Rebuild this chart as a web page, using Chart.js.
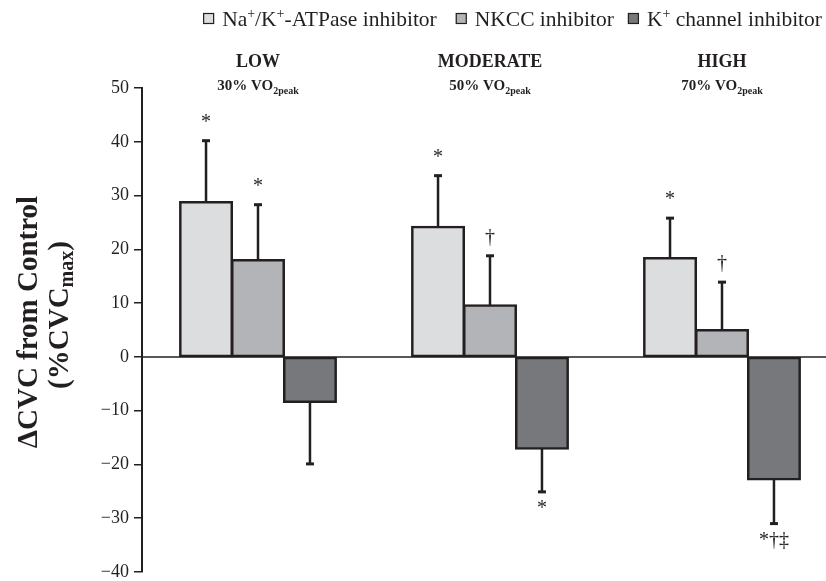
<!DOCTYPE html>
<html>
<head>
<meta charset="utf-8">
<script src="https://cdn.jsdelivr.net/npm/chart.js@4.4.1/dist/chart.umd.min.js"></script>
<style>
  html, body { margin: 0; padding: 0; background: #fff; overflow: hidden; }
  #wrap { position: relative; width: 838px; height: 581px; }
</style>
</head>
<body>
<div id="wrap"><canvas id="chart"></canvas></div>
<script>
// ── Data ─────────────────────────────────────────────────────────────── //
var categories   = ['LOW', 'MODERATE', 'HIGH'];
var intensities  = ['30% VO_{2peak}', '50% VO_{2peak}', '70% VO_{2peak}'];
var seriesNames  = ['Na^{+}/K^{+}-ATPase inhibitor', 'NKCC inhibitor', 'K^{+} channel inhibitor'];
var seriesColors = ['#dcdddf', '#b3b4b7', '#77787b'];

var naK     = [28.8, 24.2, 18.4];
var naKErr  = [11.4, 9.5, 7.4];
var nkcc    = [18.0, 9.6, 5.0];
var nkccErr = [10.3, 9.2, 8.9];
var kCh     = [-8.4, -17.1, -22.8];
var kChErr  = [11.5, 8.0, 8.2];

// significance marks per series, per category
var naKMarks  = ['*', '*', '*'];
var nkccMarks = ['*', '†', '†'];
var kChMarks  = ['', '*', '*†‡'];

var yTicks = { min: -40, max: 50, step: 10 };

var INK = '#231f20';
var SERIF = '"Liberation Serif", "Times New Roman", serif';

// ── Helpers: text with ^{sup} and _{sub} ─────────────────────────────── //
function parseRich(str) {
  var parts = [];
  var re = /([\^_])\{([^}]*)\}/g, last = 0, m;
  while ((m = re.exec(str)) !== null) {
    if (m.index > last) parts.push({ t: str.slice(last, m.index), mode: 'n' });
    parts.push({ t: m[2], mode: m[1] === '^' ? 'sup' : 'sub' });
    last = re.lastIndex;
  }
  if (last < str.length) parts.push({ t: str.slice(last), mode: 'n' });
  return parts;
}
function plain(str) { return str.replace(/[\^_]\{([^}]*)\}/g, '$1'); }

function richWidth(ctx, parts, st) {
  var w = 0;
  parts.forEach(function(p) {
    ctx.font = (p.mode === 'n' ? st.font : st.small);
    w += ctx.measureText(p.t).width;
  });
  return w;
}
function drawRich(ctx, parts, x, y, st) {
  parts.forEach(function(p) {
    ctx.font = (p.mode === 'n' ? st.font : st.small);
    var dy = p.mode === 'sup' ? -st.up : (p.mode === 'sub' ? st.down : 0);
    ctx.fillText(p.t, x, y + dy);
    x += ctx.measureText(p.t).width;
  });
}

// ── Plugins ──────────────────────────────────────────────────────────── //
var zeroLine = {
  id: 'zeroLine',
  afterDatasetsDraw: function(chart) {
    var ctx = chart.ctx, y = chart.scales.y.getPixelForValue(0), a = chart.chartArea;
    ctx.save();
    ctx.strokeStyle = INK; ctx.lineWidth = 1.5;
    ctx.beginPath(); ctx.moveTo(a.left, y); ctx.lineTo(a.right, y); ctx.stroke();
    ctx.restore();
  }
};

var errorBars = {
  id: 'errorBars',
  afterDatasetsDraw: function(chart) {
    var ctx = chart.ctx, ys = chart.scales.y;
    ctx.save();
    ctx.strokeStyle = INK; ctx.fillStyle = INK;
    chart.data.datasets.forEach(function(ds, i) {
      chart.getDatasetMeta(i).data.forEach(function(bar, j) {
        var v = ds.data[j], e = ds.errors[j];
        var sign = v >= 0 ? 1 : -1;
        var yEnd = ys.getPixelForValue(v + sign * e);
        ctx.lineWidth = 2.5;
        ctx.beginPath(); ctx.moveTo(bar.x, bar.y); ctx.lineTo(bar.x, yEnd); ctx.stroke();
        ctx.lineWidth = 3;
        ctx.beginPath(); ctx.moveTo(bar.x - 4, yEnd); ctx.lineTo(bar.x + 4, yEnd); ctx.stroke();
        // significance marks
        var mark = ds.marks[j];
        if (mark) {
          ctx.font = '20px ' + SERIF;
          ctx.textAlign = 'center';
          ctx.textBaseline = 'middle';
          ctx.fillText(mark, bar.x, yEnd + (sign > 0 ? -18 : 17));
        }
      });
    });
    ctx.restore();
  }
};

var annotations = {
  id: 'annotations',
  afterDraw: function(chart) {
    var ctx = chart.ctx, xs = chart.scales.x;
    ctx.save();
    ctx.fillStyle = INK;
    ctx.textBaseline = 'alphabetic';
    ctx.textAlign = 'left';

    // group headings
    categories.forEach(function(c, i) {
      var cx = xs.getPixelForValue(i);
      ctx.font = 'bold 18px ' + SERIF;
      ctx.textAlign = 'center';
      ctx.fillText(c, cx, 67);
      ctx.textAlign = 'left';
      var st = { font: 'bold 15px ' + SERIF, small: 'bold 10px ' + SERIF, up: 6, down: 4 };
      var parts = parseRich(intensities[i]);
      drawRich(ctx, parts, cx - richWidth(ctx, parts, st) / 2, 90, st);
    });

    // legend, right aligned
    var lst = { font: '21.5px ' + SERIF, small: '14px ' + SERIF, up: 8, down: 4 };
    var box = 11, gapBox = 8, gaps = [0, 19, 14];
    var items = seriesNames.map(function(n) { return parseRich(n); });
    var total = 0;
    items.forEach(function(p, i) {
      total += box + gapBox + richWidth(ctx, p, lst) + gaps[i];
    });
    var x = 822 - total;
    items.forEach(function(p, i) {
      x += gaps[i];
      ctx.fillStyle = seriesColors[i];
      ctx.fillRect(x, 13, box, box);
      ctx.strokeStyle = INK; ctx.lineWidth = 1.2;
      ctx.strokeRect(x + 0.5, 13.5, box - 1, box - 1);
      x += box + gapBox;
      ctx.fillStyle = INK;
      drawRich(ctx, p, x, 26, lst);
      x += richWidth(ctx, p, lst);
    });

    // y title, rotated
    var tst = { font: 'bold 29px ' + SERIF, small: 'bold 20px ' + SERIF, up: 8, down: 7 };
    var lines = [{ s: '\u0394CVC from Control', x: 30, y: 322 }, { s: '(%CVC_{max})', x: 61, y: 315 }];
    lines.forEach(function(l) {
      var parts = parseRich(l.s);
      ctx.save();
      ctx.translate(l.x, l.y);
      ctx.rotate(-Math.PI / 2);
      ctx.textBaseline = 'middle';
      drawRich(ctx, parts, -richWidth(ctx, parts, tst) / 2, 0, tst);
      ctx.restore();
    });
    ctx.restore();
  }
};

// ── Chart ────────────────────────────────────────────────────────────── //
var marksBySeries = [naKMarks, nkccMarks, kChMarks];
var valuesBySeries = [naK, nkcc, kCh];
var errorsBySeries = [naKErr, nkccErr, kChErr];

new Chart(document.getElementById('chart').getContext('2d'), {
  type: 'bar',
  data: {
    labels: categories,
    datasets: seriesNames.map(function(n, i) {
      return {
        label: plain(n),
        data: valuesBySeries[i],
        errors: errorsBySeries[i],
        marks: marksBySeries[i],
        backgroundColor: seriesColors[i],
        borderColor: INK,
        borderWidth: 2.5,
        borderSkipped: false,
        inflateAmount: 1,
        categoryPercentage: 0.672,
        barPercentage: 1.0,
      };
    }),
  },
  options: {
    responsive: true,
    maintainAspectRatio: false,
    animation: false,
    layout: { padding: { left: 0, right: 0, top: 88, bottom: 9 } },
    plugins: { legend: { display: false }, tooltip: { enabled: false } },
    scales: {
      x: { display: false },
      y: {
        min: yTicks.min,
        max: yTicks.max,
        afterFit: function(scale) {
          scale.width = 142;
          scale.paddingTop = 0;
          scale.paddingBottom = 0;
        },
        ticks: {
          stepSize: yTicks.step,
          padding: 5,
          color: INK,
          font: { family: SERIF, size: 18 },
          callback: function(v) { return String(v).replace('-', '\u2212'); },
        },
        grid: { drawOnChartArea: false, drawTicks: true, tickLength: 8, color: INK, lineWidth: 1.5 },
        border: { display: true, color: INK, width: 2 },
      },
    },
  },
  plugins: [zeroLine, errorBars, annotations],
});
</script>
</body>
</html>
